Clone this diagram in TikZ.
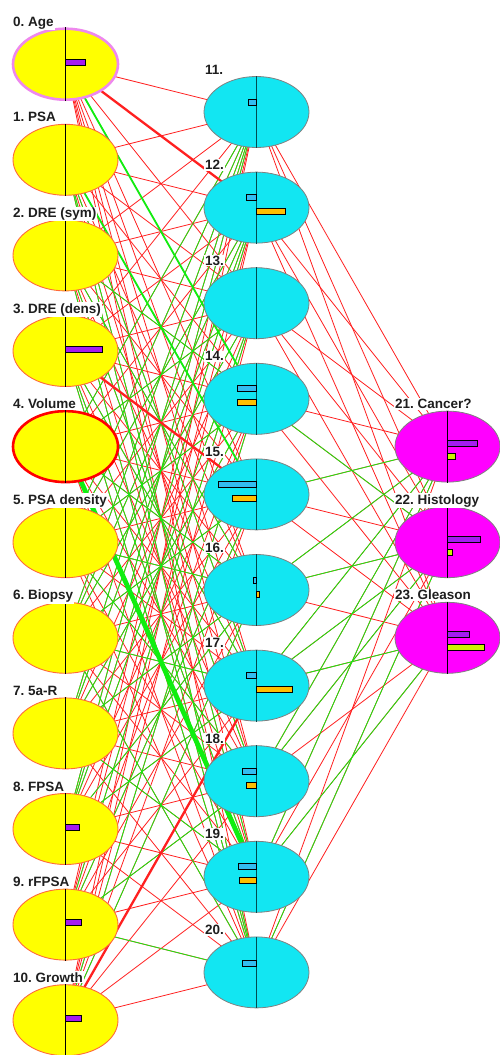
\documentclass[tikz,border=0pt]{standalone}
\usepackage{fontspec}
\setmainfont{Liberation Sans}
\usetikzlibrary{shapes.geometric}
\definecolor{inyellow}{HTML}{FFFF00}
\definecolor{inedge}{HTML}{FF6A3A}
\definecolor{agepink}{HTML}{EE88EE}
\definecolor{hidcyan}{HTML}{12E6F2}
\definecolor{outmag}{HTML}{FF00FF}
\definecolor{nodegray}{HTML}{808080}
\definecolor{axteal}{HTML}{004C50}
\definecolor{barpurple}{HTML}{A41CF0}
\definecolor{barblue}{HTML}{33BDF0}
\definecolor{barorange}{HTML}{FFBF00}
\definecolor{baryg}{HTML}{CCF000}
\definecolor{wred}{HTML}{FF2020}
\definecolor{wgreen}{HTML}{10EE10}
\definecolor{lbltext}{HTML}{1E1E1E}
\pgfdeclarelayer{bg}
\pgfsetlayers{bg,main}
\newcommand\nnbar[5]{\draw[barline,fill=#5] ([yshift=#3pt]#1.center) rectangle ++(#2pt,-#4pt);}
\begin{document}
\frenchspacing
\begin{tikzpicture}[x=1pt,y=-1pt,
  basenode/.style={ellipse, minimum width=105pt, minimum height=71pt, inner sep=0pt},
  inode/.style={basenode, draw=inedge, line width=0.9pt, fill=inyellow},
  hnode/.style={basenode, draw=nodegray, line width=0.8pt, fill=hidcyan},
  onode/.style={basenode, draw=nodegray, line width=0.8pt, fill=outmag},
  axis/.style={line width=1.1pt, draw=black},
  haxis/.style={line width=1.1pt, draw=axteal},
  barline/.style={line width=0.8pt, draw=black},
  lbl/.style={font=\fontsize{13.5}{16}\selectfont\bfseries, text=lbltext, fill=white, inner sep=1pt, anchor=base west},
  wthin/.style={draw=wred, line width=0.8pt},
  gthin/.style={draw=wgreen, line width=0.8pt},
  gmed/.style={draw=wgreen, line width=1.8pt},
  rthick/.style={draw=wred, line width=2.3pt},
  gthick/.style={draw=wgreen, line width=4.8pt}
]
\useasboundingbox (0,0) rectangle (500,1055);

% input nodes
\foreach \i in {0,...,10}{
  \pgfmathsetmacro\yy{64.2+95.6*\i}
  \node[inode] (i\i) at (65.5,\yy) {};
}
\node[basenode, draw=agepink, line width=2.6pt, fill=inyellow] (i0) at (65.5,64.2) {};
\node[basenode, draw=red, line width=2.6pt, fill=inyellow] (i4) at (65.5,446.6) {};
\foreach \i in {0,...,10}{ \draw[axis] (i\i.north) -- (i\i.south); }

% hidden nodes
\foreach \j in {11,...,20}{
  \pgfmathsetmacro\yy{112+95.6*(\j-11)}
  \node[hnode] (h\j) at (256.5,\yy) {};
  \draw[haxis] (h\j.north) -- (h\j.south);
}

% output nodes
\foreach \k in {21,22,23}{
  \pgfmathsetmacro\yy{446.6+95.6*(\k-21)}
  \node[onode] (o\k) at (447.5,\yy) {};
  \draw[axis] (o\k.north) -- (o\k.south);
}

% connectors
\begin{pgfonlayer}{bg}
\fill[white] (0,0) rectangle (500,1055);
\foreach \i in {0,...,10}{\foreach \j in {11,...,20}{\draw[wthin] (i\i.center) -- (h\j.center);}}
\foreach \j in {11,...,20}{\foreach \k in {21,22,23}{\draw[wthin] (h\j.center) -- (o\k.center);}}
\foreach \i/\j in {1/17,1/19,1/20,2/14,2/16,2/18,2/20,3/17,3/19,3/20,4/16,4/13,4/11,5/11,5/12,5/14,5/16,5/18,6/11,6/12,6/13,6/15,6/17,6/20,7/11,7/12,7/14,7/16,7/19,8/11,8/12,8/13,8/16,8/17,9/13,9/15,9/18,9/20,10/14,10/16}{
  \draw[gthin] (i\i.center) -- (h\j.center);}
\foreach \j/\k in {14/22,15/21,16/21,16/22,17/21,17/22,17/23,18/21,18/22,19/21,19/23,20/22}{
  \draw[gthin] (h\j.center) -- (o\k.center);}
\draw[gmed] (i0.center) -- (h14.center);
\draw[gmed] (i1.center) -- (h15.center);
\draw[rthick] (i0.center) -- (h12.center);
\draw[rthick] (i3.center) -- (h15.center);
\draw[rthick] (i10.center) -- (h17.center);
\draw[gthick] (i4.center) -- (h19.center);
\end{pgfonlayer}

% bars: input (purple, to the right)
\nnbar{i0}{20}{5}{6}{barpurple}
\nnbar{i3}{37}{5}{6}{barpurple}
\nnbar{i8}{14}{5}{6}{barpurple}
\nnbar{i9}{16}{5}{6}{barpurple}
\nnbar{i10}{16}{5}{6}{barpurple}
% hidden
\nnbar{h11}{-8}{13}{6}{barblue}
\nnbar{h12}{-10}{13}{6}{barblue}
\nnbar{h12}{29}{-1}{6}{barorange}
\nnbar{h14}{-19}{13}{6}{barblue}
\nnbar{h14}{-19}{-1}{6}{barorange}
\nnbar{h15}{-38}{13}{6}{barblue}
\nnbar{h15}{-24}{-1}{6}{barorange}
\nnbar{h16}{-3}{13}{6}{barblue}
\nnbar{h16}{3}{-1}{6}{barorange}
\nnbar{h17}{-10}{13}{6}{barblue}
\nnbar{h17}{36}{-1}{6}{barorange}
\nnbar{h18}{-14}{13}{6}{barblue}
\nnbar{h18}{-10}{-1}{6}{barorange}
\nnbar{h19}{-18}{13}{6}{barblue}
\nnbar{h19}{-17}{-1}{6}{barorange}
\nnbar{h20}{-14}{12}{6}{barblue}
% output
\nnbar{o21}{30}{6}{6}{barpurple}
\nnbar{o21}{8}{-7}{6}{baryg}
\nnbar{o22}{33}{6}{6}{barpurple}
\nnbar{o22}{5}{-7}{6}{baryg}
\nnbar{o23}{22}{6}{6}{barpurple}
\nnbar{o23}{37}{-7}{6}{baryg}

% labels
\foreach \i/\t in {0/{0. Age},1/{1. PSA},2/{2. DRE (sym)},3/{3. DRE (dens)},4/{4. Volume},5/{5. PSA density},6/{6. Biopsy},7/{7. 5a-R},8/{8. FPSA},9/{9. rFPSA},10/{10. Growth}}{
  \pgfmathsetmacro\yy{64.2+95.6*\i-38}
  \node[lbl] (li\i) at (12,\yy) {\t};
}
\foreach \j in {11,...,20}{
  \pgfmathsetmacro\yy{112+95.6*(\j-11)-38}
  \node[lbl] (lh\j) at (204,\yy) {\j.};
}
\foreach \k/\t in {21/{21. Cancer?},22/{22. Histology},23/{23. Gleason}}{
  \pgfmathsetmacro\yy{446.6+95.6*(\k-21)-38}
  \node[lbl] (lo\k) at (394,\yy) {\t};
}
\end{tikzpicture}
\end{document}
